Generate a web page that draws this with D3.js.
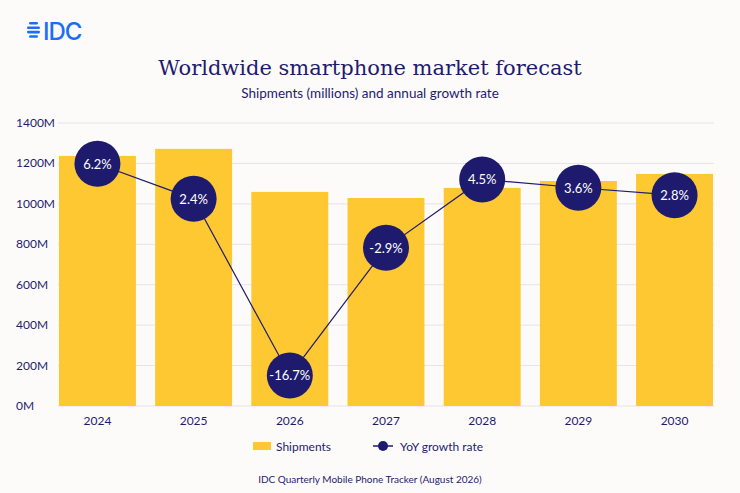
<!DOCTYPE html><html><head><meta charset="utf-8">
<script src="https://cdn.jsdelivr.net/npm/d3@7"></script>
<style>body{margin:0;background:#fdfbf9}svg{display:block}</style></head><body>
<svg id="c" width="740" height="493"></svg>
<script>
const years = ["2024","2025","2026","2027","2028","2029","2030"];
const shipments = [1237,1272,1059,1029,1079,1113,1148];
const growth = [6.2,2.4,-16.7,-2.9,4.5,3.6,2.8];
const yTicks = [0,200,400,600,800,1000,1200,1400];

const svg = d3.select("#c");
const navy = "#1e1b6e", gold = "#fec832";
const x = d3.scaleBand().domain(years).range([58,714]).paddingInner(0.2).paddingOuter(0.01);
const y = d3.scaleLinear().domain([0,1400]).range([406,123]);
const y2 = d3.scaleLinear().domain([-20,10.6]).range([406,123]);

// logo
const lg = svg.append("g");
[0,1,2,3].forEach(i=>lg.append("rect").attr("x",27+(i==0||i==3?2:0)).attr("y",22+i*4.4).attr("width",i==0||i==3?9:13).attr("height",2.6).attr("rx",1.3).attr("fill","#1a6ef5"));
lg.append("text").attr("x",43).attr("y",40).text("IDC").attr("font-family","Inter, sans-serif").attr("font-size",24).attr("font-weight",500).attr("fill","#1a6ef5").attr("letter-spacing",-1);

svg.append("text").attr("x",370).attr("y",75).attr("text-anchor","middle").attr("font-family","'DejaVu Serif', 'Liberation Serif', serif").attr("font-size",21).attr("fill",navy).text("Worldwide smartphone market forecast");
svg.append("text").attr("x",370).attr("y",98).attr("text-anchor","middle").attr("font-family","Lato, sans-serif").attr("font-size",13.5).attr("fill",navy).text("Shipments (millions) and annual growth rate");

// grid
svg.append("g").selectAll("line").data(yTicks).join("line").attr("x1",58).attr("x2",714).attr("y1",d=>y(d)).attr("y2",d=>y(d)).attr("stroke","#e6e3ea").attr("stroke-width",1);
svg.append("g").selectAll("text").data(yTicks).join("text").attr("x",16).attr("y",d=>y(d)+4).text(d=>d+"M").attr("font-family","Lato, sans-serif").attr("font-size",12).attr("fill",navy);

svg.append("g").selectAll("rect").data(shipments).join("rect").attr("x",(d,i)=>x(years[i])).attr("width",x.bandwidth()).attr("y",d=>y(d)).attr("height",d=>y(0)-y(d)).attr("fill",gold);

svg.append("g").selectAll("text").data(years).join("text").attr("x",d=>x(d)+x.bandwidth()/2).attr("y",425).attr("text-anchor","middle").text(d=>d).attr("font-family","Lato, sans-serif").attr("font-size",12).attr("fill",navy);

const cx = i=>x(years[i])+x.bandwidth()/2;
svg.append("path").datum(growth).attr("d",d3.line().x((d,i)=>cx(i)).y(d=>y2(d))).attr("fill","none").attr("stroke",navy).attr("stroke-width",1.2);
const g = svg.append("g").selectAll("g").data(growth).join("g").attr("transform",(d,i)=>`translate(${cx(i)},${y2(d)})`);
g.append("circle").attr("r",23).attr("fill",navy);
g.append("text").attr("y",5).attr("text-anchor","middle").text(d=>d.toFixed(1)+"%").attr("font-family","Lato, sans-serif").attr("font-size",13).attr("fill","#fff");

// legend
svg.append("rect").attr("x",253).attr("y",442).attr("width",18).attr("height",8).attr("fill",gold);
svg.append("text").attr("x",276).attr("y",451).text("Shipments").attr("font-family","Lato, sans-serif").attr("font-size",12).attr("fill",navy);
svg.append("line").attr("x1",373).attr("x2",393).attr("y1",446).attr("y2",446).attr("stroke",navy).attr("stroke-width",1.5);
svg.append("circle").attr("cx",383).attr("cy",446).attr("r",5).attr("fill",navy);
svg.append("text").attr("x",400).attr("y",451).text("YoY growth rate").attr("font-family","Lato, sans-serif").attr("font-size",12).attr("fill",navy);

svg.append("text").attr("x",370).attr("y",483).attr("text-anchor","middle").text("IDC Quarterly Mobile Phone Tracker (August 2026)").attr("font-family","Lato, sans-serif").attr("font-size",10).attr("fill",navy);
</script></body></html>
